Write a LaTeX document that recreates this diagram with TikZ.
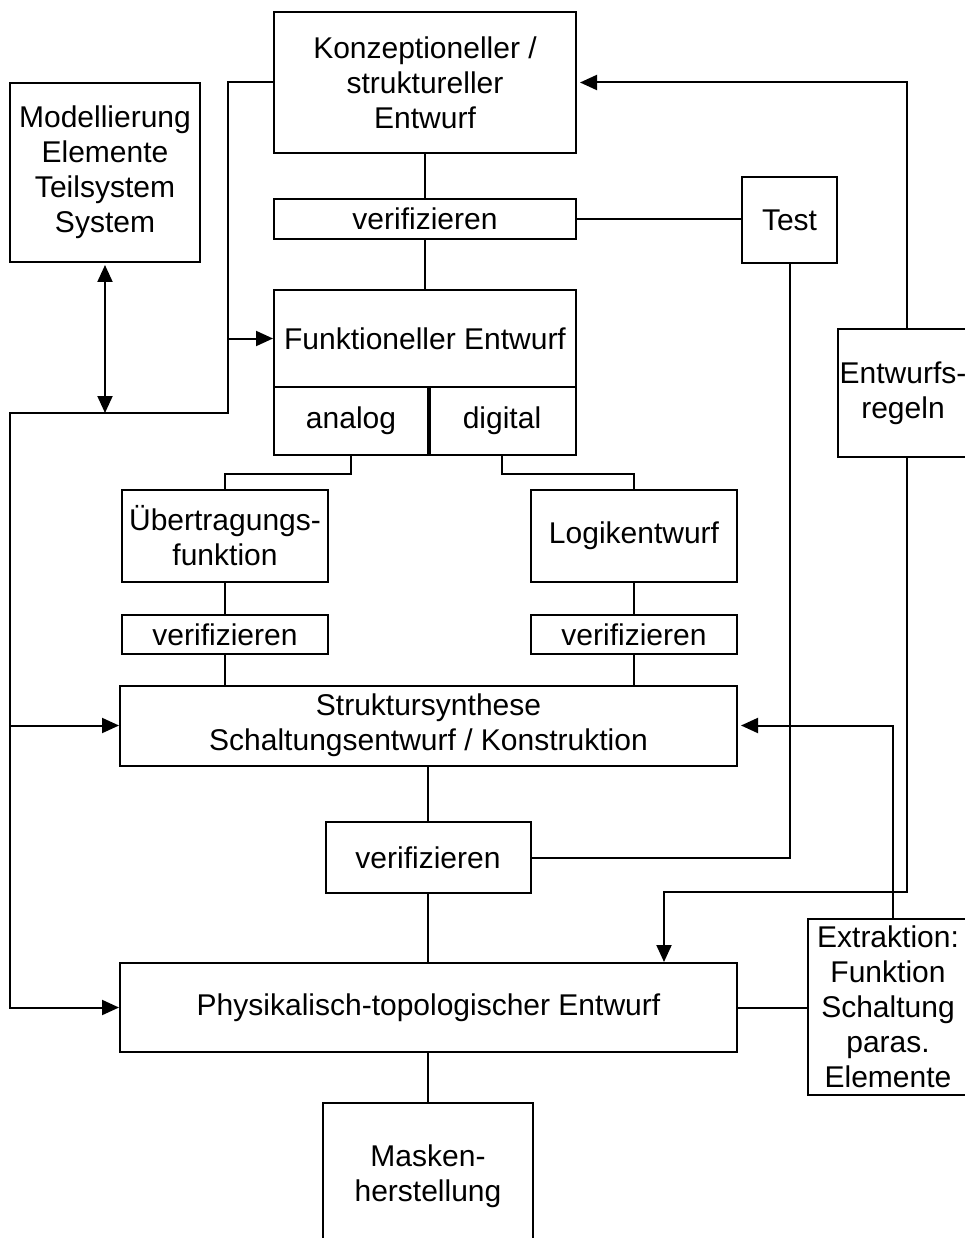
\documentclass[tikz,border=0pt]{standalone}
\usepackage{fontspec}
\setmainfont{Liberation Sans}
\usetikzlibrary{arrows.meta}
\begin{document}
\begin{tikzpicture}[x=1pt, y=-1pt, line width=2pt,
  box/.style={draw, line width=2pt, inner sep=0pt, align=center,
    font=\fontsize{30}{35}\selectfont},
  arr/.style={-{Triangle[length=17pt,width=15pt]}},
  darr/.style={{Triangle[length=17pt,width=15pt]}-{Triangle[length=17pt,width=15pt]}},
  ]
% canvas
\fill[white] (0,0) rectangle (965,1238);
\useasboundingbox (0,0) rectangle (965,1238);

% boxes
\node[box, minimum width=190pt, minimum height=179pt] (modl) at (105,172.5)
  {Modellierung\\Elemente\\Teilsystem\\System};
\node[box, minimum width=302pt, minimum height=141pt] (konz) at (425,82.5)
  {Konzeptioneller /\\struktureller\\Entwurf};
\node[box, minimum width=302pt, minimum height=40pt] (ver1) at (425,219) {verifizieren};
\node[box, minimum width=95pt, minimum height=86pt] (test) at (789.5,220) {Test};
\node[box, minimum width=302pt, minimum height=97pt] (funk) at (425,338.5) {Funktioneller Entwurf};
\node[box, minimum width=154pt, minimum height=68pt] (analog) at (351,421) {analog};
\node[box, minimum width=148pt, minimum height=68pt] (digital) at (502,421) {digital};
\draw[line width=3.2pt] (analog.north east) -- (analog.south east);
\node[box, minimum width=130pt, minimum height=128pt] (regeln) at (903,393) {Entwurfs-\\regeln};
\node[box, minimum width=206pt, minimum height=92pt] (ueber) at (225,536) {Übertragungs-\\funktion};
\node[box, minimum width=206pt, minimum height=92pt] (logik) at (634,536) {Logikentwurf};
\node[box, minimum width=206pt, minimum height=39pt] (ver2) at (225,634.5) {verifizieren};
\node[box, minimum width=206pt, minimum height=39pt] (ver3) at (634,634.5) {verifizieren};
\node[box, minimum width=617pt, minimum height=80pt] (struk) at (428.5,725.5)
  {Struktursynthese\\Schaltungsentwurf / Konstruktion};
\node[box, minimum width=205pt, minimum height=71pt] (ver4) at (428,857.5) {verifizieren};
\node[box, minimum width=617pt, minimum height=89pt] (phys) at (428.5,1007.5)
  {Physikalisch-topologischer Entwurf};
\node[box, minimum width=160pt, minimum height=176pt] (extr) at (888,1007)
  {Extraktion:\\Funktion\\Schaltung\\paras.\\Elemente};
\node[box, minimum width=210pt, minimum height=147pt] (mask) at (428,1176.5)
  {Masken-\\herstellung};

% bus points of the feedback lines
\coordinate (busA) at (228,413);
\coordinate (busB) at (10,413);
\coordinate (rj) at (664,892);
\coordinate (rtop) at ([xshift=4pt]regeln.north);
\coordinate (rbot) at ([xshift=4pt]regeln.south);
\coordinate (etop) at ([xshift=5pt]extr.north);

% main chain
\draw (konz.south) -- (ver1.north);
\draw (ver1.south) -- (funk.north);
\draw (ver1.east) -- (ver1.east -| test.west);
\draw (analog.south) -- ++(0,18) -| (ueber.north);
\draw (digital.south) -- ++(0,18) -| (logik.north);
\draw (ueber.south) -- (ver2.north);
\draw (ver2.south) -- (ver2.south |- struk.north);
\draw (logik.south) -- (ver3.north);
\draw (ver3.south) -- (ver3.south |- struk.north);
\draw (ver4.north) -- (ver4.north |- struk.south);
\draw (ver4.south) -- (ver4.south |- phys.north);
\draw (ver4.east) -| (test.south);
\draw (phys.east) -- (phys.east -| extr.west);
\draw (mask.north) -- (mask.north |- phys.south);

% left feedback bus
\draw[arr] (konz.west) -| (busA) -- (busB) |- (phys.west);
\draw[arr] (busA |- funk.west) -- (funk.west);
\draw[arr] (busB |- struk.west) -- (struk.west);
\draw[darr, shorten <=2pt] (modl.south) -- (modl.south |- busB);

% design rules and extraction
\draw[arr, shorten >=3pt] (rtop) |- (konz.east);
\draw[arr] (rbot) |- (rj) -- (rj |- phys.north);
\draw[arr, shorten >=3pt] (etop) |- (struk.east);
\end{tikzpicture}
\end{document}
